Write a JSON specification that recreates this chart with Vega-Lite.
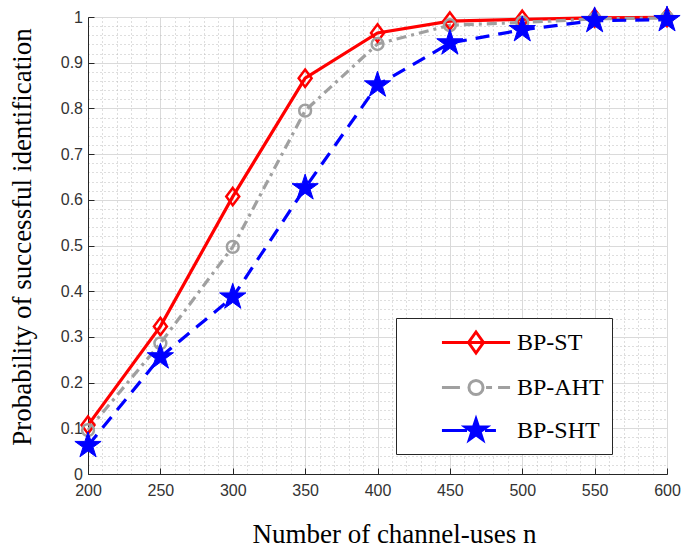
{
  "$schema": "https://vega.github.io/schema/vega-lite/v6.json",
  "autosize": "none",
  "width": 579,
  "height": 457,
  "padding": {"left": 88, "top": 17, "right": 16, "bottom": 76},
  "background": "white",
  "config": {
    "view": {"stroke": "#262626", "strokeWidth": 1},
    "axis": {
      "labelFont": "Liberation Sans",
      "labelFontSize": 16,
      "labelColor": "#333333",
      "titleFont": "Liberation Serif",
      "titleFontSize": 27,
      "titleFontWeight": "normal",
      "titleColor": "#000000",
      "domainColor": "#262626",
      "tickColor": "#262626",
      "labelOverlap": false,
      "labelFlush": false
    }
  },
  "data": {
    "values": [
      {"n": 200, "p": 0.107, "series": "BP-ST"},
      {"n": 250, "p": 0.323, "series": "BP-ST"},
      {"n": 300, "p": 0.607, "series": "BP-ST"},
      {"n": 350, "p": 0.866, "series": "BP-ST"},
      {"n": 400, "p": 0.965, "series": "BP-ST"},
      {"n": 450, "p": 0.991, "series": "BP-ST"},
      {"n": 500, "p": 0.995, "series": "BP-ST"},
      {"n": 550, "p": 0.998, "series": "BP-ST"},
      {"n": 600, "p": 0.999, "series": "BP-ST"},
      {"n": 200, "p": 0.096, "series": "BP-AHT"},
      {"n": 250, "p": 0.286, "series": "BP-AHT"},
      {"n": 300, "p": 0.497, "series": "BP-AHT"},
      {"n": 350, "p": 0.795, "series": "BP-AHT"},
      {"n": 400, "p": 0.941, "series": "BP-AHT"},
      {"n": 450, "p": 0.982, "series": "BP-AHT"},
      {"n": 500, "p": 0.988, "series": "BP-AHT"},
      {"n": 550, "p": 0.996, "series": "BP-AHT"},
      {"n": 600, "p": 0.998, "series": "BP-AHT"},
      {"n": 200, "p": 0.062, "series": "BP-SHT"},
      {"n": 250, "p": 0.256, "series": "BP-SHT"},
      {"n": 300, "p": 0.387, "series": "BP-SHT"},
      {"n": 350, "p": 0.626, "series": "BP-SHT"},
      {"n": 400, "p": 0.851, "series": "BP-SHT"},
      {"n": 450, "p": 0.943, "series": "BP-SHT"},
      {"n": 500, "p": 0.972, "series": "BP-SHT"},
      {"n": 550, "p": 0.992, "series": "BP-SHT"},
      {"n": 600, "p": 0.994, "series": "BP-SHT"}
    ]
  },
  "encoding": {
    "x": {
      "field": "n",
      "type": "quantitative",
      "scale": {"domain": [200, 600], "nice": false, "zero": false},
      "axis": {
        "title": "Number of channel-uses n",
        "values": [200,210,220,230,240,250,260,270,280,290,300,310,320,330,340,350,360,370,380,390,400,410,420,430,440,450,460,470,480,490,500,510,520,530,540,550,560,570,580,590,600],
        "format": "d",
        "labelExpr": "datum.value % 50 === 0 ? datum.label : ''",
        "tickSize": -6,
        "labelPadding": 14,
        "tickOpacity": {"condition": {"test": "datum.value % 50 === 0", "value": 1}, "value": 0},
        "gridColor": {"condition": {"test": "datum.value % 50 === 0", "value": "#dadada"}, "value": "#bdbdbd"},
        "gridDash": {"condition": {"test": "datum.value % 50 === 0", "value": []}, "value": [1, 3]},
        "gridWidth": 1,
        "titlePadding": 23,
        "titleX": 306
      }
    },
    "y": {
      "field": "p",
      "type": "quantitative",
      "scale": {"domain": [0, 1], "nice": false},
      "axis": {
        "title": "Probability of successful identification",
        "values": [0,0.02,0.04,0.06,0.08,0.1,0.12,0.14,0.16,0.18,0.2,0.22,0.24,0.26,0.28,0.3,0.32,0.34,0.36,0.38,0.4,0.42,0.44,0.46,0.48,0.5,0.52,0.54,0.56,0.58,0.6,0.62,0.64,0.66,0.68,0.7,0.72,0.74,0.76,0.78,0.8,0.82,0.84,0.86,0.88,0.9,0.92,0.94,0.96,0.98,1],
        "format": "~g",
        "labelExpr": "abs(datum.value*10 - round(datum.value*10)) < 0.001 ? datum.label : ''",
        "tickSize": -6,
        "labelPadding": 11.5,
        "tickOpacity": {"condition": {"test": "abs(datum.value*10 - round(datum.value*10)) < 0.001", "value": 1}, "value": 0},
        "gridColor": {"condition": {"test": "abs(datum.value*10 - round(datum.value*10)) < 0.001", "value": "#dadada"}, "value": "#bdbdbd"},
        "gridDash": {"condition": {"test": "abs(datum.value*10 - round(datum.value*10)) < 0.001", "value": []}, "value": [1, 3]},
        "gridWidth": 1,
        "titlePadding": 24,
        "titleY": 219.5
      }
    }
  },
  "layer": [
    {
      "transform": [{"filter": {"field": "series", "equal": "BP-ST"}}],
      "mark": {"type": "line", "strokeWidth": 3.2, "color": "#ff0000"}
    },
    {
      "transform": [{"filter": {"field": "series", "equal": "BP-AHT"}}],
      "mark": {"type": "line", "strokeWidth": 3.2, "color": "#a0a0a0", "strokeDash": [10, 5, 3, 5]}
    },
    {
      "transform": [{"filter": {"field": "series", "equal": "BP-SHT"}}],
      "mark": {"type": "line", "strokeWidth": 3.2, "color": "#0000ff", "strokeDash": [14, 9]}
    },
    {
      "transform": [{"filter": {"field": "series", "equal": "BP-ST"}}],
      "mark": {"type": "point", "filled": true, "shape": "M0,-1L0.75,0L0,1L-0.75,0Z", "size": 300, "stroke": "#ff0000", "fill": "transparent", "strokeWidth": 2.5, "opacity": 1}
    },
    {
      "transform": [{"filter": {"field": "series", "equal": "BP-AHT"}}],
      "mark": {"type": "point", "filled": true, "shape": "circle", "size": 140, "stroke": "#a0a0a0", "fill": "transparent", "strokeWidth": 2.5, "opacity": 1}
    },
    {
      "transform": [{"filter": {"field": "series", "equal": "BP-SHT"}}],
      "mark": {"type": "point", "filled": true, "shape": "M0,-1L0.2245,-0.309L0.9511,-0.309L0.3633,0.118L0.5878,0.809L0,0.382L-0.5878,0.809L-0.3633,0.118L-0.9511,-0.309L-0.2245,-0.309Z", "size": 760, "stroke": "#0000ff", "fill": "#0000ff", "strokeWidth": 1, "opacity": 1}
    },
    {
      "mark": {"type": "point", "filled": true, "opacity": 0, "strokeWidth": 3},
      "encoding": {
        "shape": {
          "field": "series",
          "type": "nominal",
          "scale": {"domain": ["BP-ST", "BP-AHT", "BP-SHT"], "range": [
            "M-2.27,0H2.27M0,-0.7L0.5,0L0,0.7L-0.5,0Z",
            "M-2.27,0H-1.07M-0.47,0A0.47,0.47 0 1 0 0.47,0A0.47,0.47 0 1 0 -0.47,0M0.67,0H1.07M1.47,0H2.27",
            "M-2.27,0H-0.6M0.6,0H1.33M0,-0.75L0.168,-0.232L0.713,-0.232L0.272,0.089L0.441,0.607L0,0.287L-0.441,0.607L-0.272,0.089L-0.713,-0.232L-0.168,-0.232Z"
          ]},
          "legend": {
            "title": null,
            "orient": "none",
            "legendX": 308,
            "legendY": 301,
            "direction": "vertical",
            "padding": 8,
            "strokeColor": "#262626",
            "fillColor": "#ffffff",
            "cornerRadius": 0,
            "symbolSize": 900,
            "symbolStrokeWidth": 3,
            "symbolOpacity": 1,
            "symbolOffset": 55.5,
            "labelOffset": 24.5,
            "rowPadding": 12,
            "labelFont": "Liberation Serif",
            "labelFontSize": 24,
            "labelColor": "#000000",
            "labelExpr": "datum.label + '\u00a0\u00a0\u00a0\u00a0\u00a0\u00a0\u00a0'"
          }
        },
        "stroke": {
          "field": "series",
          "type": "nominal",
          "scale": {"domain": ["BP-ST", "BP-AHT", "BP-SHT"], "range": ["#ff0000", "#a0a0a0", "#0000ff"]},
          "legend": null
        },
        "fill": {
          "field": "series",
          "type": "nominal",
          "scale": {"domain": ["BP-ST", "BP-AHT", "BP-SHT"], "range": ["transparent", "transparent", "#0000ff"]},
          "legend": null
        }
      }
    }
  ]
}
